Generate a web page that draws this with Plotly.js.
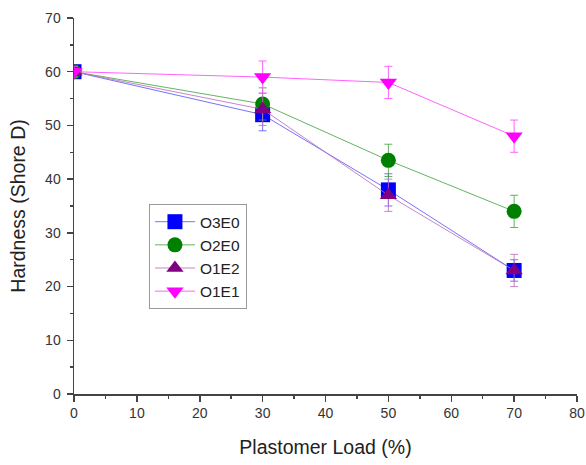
<!DOCTYPE html>
<html>
<head>
<meta charset="utf-8">
<script src="https://cdn.plot.ly/plotly-3.0.1.min.js"></script>
<style>html,body{margin:0;padding:0;background:#fff;}#chart{width:586px;height:465px;}</style>
</head>
<body>
<div id="chart"></div>
<script>
// Plastomer load (%) and Shore D hardness per formulation
const load = [0, 30, 50, 70];
const seriesNames = ["O3E0", "O2E0", "O1E2", "O1E1"];
const hardnessO3E0 = [60, 52, 38, 23];
const hardnessO2E0 = [60, 54, 43.5, 34];
const hardnessO1E2 = [60, 53, 37, 23];
const hardnessO1E1 = [60, 59, 58, 48];
const errO3E0 = [0.5, 3, 3, 2];
const errO2E0 = [0.5, 3, 3, 3];
const errO1E2 = [0.5, 3, 3, 3];
const errO1E1 = [1, 3, 3, 3];

const FONT = 'Liberation Sans, Arial, sans-serif';

function series(name, y, err, color, lineColor, symbol) {
  return {
    x: load, y: y, name: name, type: 'scatter', mode: 'lines+markers',
    line: {color: lineColor, width: 1},
    marker: {color: color, symbol: symbol, size: 15, line: {width: 0}},
    error_y: {type: 'data', array: err, visible: true, color: lineColor, thickness: 1, width: 4}
  };
}

const data = [
  series(seriesNames[0], hardnessO3E0, errO3E0, '#0000ff', 'rgba(80,80,255,0.8)', 'square'),
  series(seriesNames[1], hardnessO2E0, errO2E0, '#008000', 'rgba(60,160,60,0.8)', 'circle'),
  series(seriesNames[2], hardnessO1E2, errO1E2, '#800080', 'rgba(190,110,190,0.85)', 'triangle-up'),
  series(seriesNames[3], hardnessO1E1, errO1E1, '#ff00ff', 'rgba(255,80,255,0.9)', 'triangle-down')
];

const axisCommon = {
  showline: true, linecolor: '#444', linewidth: 1.5, mirror: false,
  ticks: 'outside', ticklen: 6, tickcolor: '#444', tickwidth: 1.5,
  showgrid: false, zeroline: false,
  tickfont: {family: FONT, size: 14, color: '#333'},
  minor: {dtick: 5, ticks: 'outside', ticklen: 3, tickcolor: '#444', tickwidth: 1.5, showgrid: false}
};

const layout = {
  width: 586, height: 465,
  margin: {l: 74, r: 9, t: 18, b: 71},
  paper_bgcolor: '#fff', plot_bgcolor: '#fff',
  showlegend: true,
  legend: {
    x: 0.149, y: 0.505, xanchor: 'left', yanchor: 'top',
    bordercolor: '#999', borderwidth: 1, bgcolor: '#fff',
    font: {family: FONT, size: 15.5, color: '#222'},
    tracegroupgap: 0, itemwidth: 40
  },
  xaxis: Object.assign({}, axisCommon, {
    range: [0, 80], dtick: 10, tick0: 0,
    title: {text: 'Plastomer Load (%)', font: {family: FONT, size: 19.5, color: '#222'}, standoff: 20}
  }),
  yaxis: Object.assign({}, axisCommon, {
    range: [0, 70], dtick: 10, tick0: 0, ticklabelstandoff: 3,
    title: {text: 'Hardness (Shore D)', font: {family: FONT, size: 19.5, color: '#222'}, standoff: 14}
  })
};

Plotly.newPlot('chart', data, layout, {displayModeBar: false, staticPlot: true});
</script>
</body>
</html>
